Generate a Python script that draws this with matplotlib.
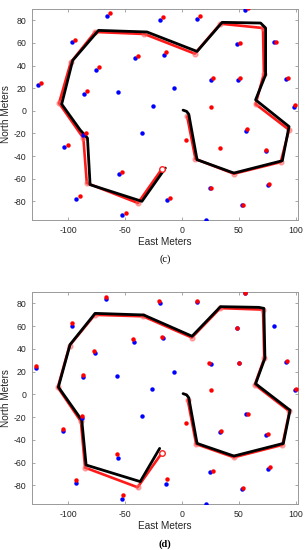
import matplotlib
matplotlib.use("Agg")
import matplotlib.pyplot as plt

# ---------- Panel (c) data ----------
c_true_lm_x = [-127, -96.5, -65.9, -19.1, 13.5, 55.3, 48.5, 80.6, -41.8, -16.2, -75.9, -86.2, -56.2, -7.1, -25.9,
               25.6, 49.4, 91.8, 98.8, 56.5, -35.0, -87.4, -103.5, 74.1, -55.9, -92.9, -13.5, 25.0, 75.6, 52.4, -52.6, 21.5]
c_true_lm_y = [22.7, 60.8, 84.1, 80.6, 81.5, 89.1, 59.0, 60.5, 46.3, 49.3, 36.3, 15.1, 16.5, 19.8, 4.7,
               26.9, 26.9, 28.3, 3.8, -17.7, -19.2, -21.3, -32.1, -35.9, -55.9, -77.9, -79.1, -68.5, -65.6, -83.5, -92.4, -96.5]
c_est_lm_x = [-124.4, -93.8, -63.2, -16.8, 16.2, 57.6, 50.6, 82.9, -39.1, -13.8, -73.5, -83.5,
              27.6, 50.9, 92.9, 25.9, 99.1, 56.8, -84.4, -100.6, 3.5, 33.2, 74.1, -52.6, -89.7, -10.6, 25.6, 76.2, 53.2, -49.7]
c_est_lm_y = [24.8, 62.9, 86.2, 82.9, 83.5, 90.6, 59.9, 61.1, 48.7, 51.7, 38.7, 17.4,
              28.9, 28.6, 28.6, 3.5, 5.0, -16.0, -19.2, -30.0, -25.6, -32.9, -34.4, -53.8, -75.6, -77.4, -68.5, -64.7, -82.9, -90.0]
c_true_path_x = [0.9, 4.0, 5.9, 13.2, 45.6, 88.2, 94.1, 64.7, 73.5, 73.5, 69.1, 35.3, 13.2, -30.9, -73.5, -96.2, -105.9, -89.7, -83.2, -80.9, -35.3, -14.7]
c_true_path_y = [0.6, -0.5, -3.0, -43.2, -55.0, -44.1, -13.9, 9.7, 31.9, 73.2, 77.6, 78.2, 52.5, 69.7, 71.1, 44.6, 5.9, -16.8, -24.1, -65.3, -80.0, -50.6]
c_est_path_x = [4.5, 11.8, 45.6, 86.8, 94.1, 64.7, 72.0, 71.2, 33.8, 11.2, -33.2, -76.5, -97.9, -108.2, -86.8, -83.8, -38.8, -17.6]
c_est_path_y = [-5.0, -42.6, -55.6, -45.3, -16.8, 5.9, 32.8, 73.2, 77.0, 50.5, 67.9, 69.7, 42.8, 6.8, -24.1, -63.8, -81.5, -51.2]

# ---------- Panel (d) data ----------
d_true_lm_x = [-128.5, -97.0, -66.5, -19.7, 13.2, 55.3, 48.5, 80.9, -42.1, -16.8, -76.8, -87.1, -56.8, -7.4, -26.2,
               25.6, 50.0, 91.8, 99.4, 56.5, -35.3, -87.6, -104.4, 74.1, -56.5, -93.5, -13.8, 25.0, 75.6, 52.4, -53.2, 21.5, 33.2]
d_true_lm_y = [22.8, 60.4, 83.8, 80.0, 80.9, 89.1, 58.1, 60.1, 46.1, 49.1, 35.9, 14.9, 16.4, 19.6, 4.7,
               26.9, 27.2, 28.5, 3.8, -17.5, -19.3, -20.5, -32.4, -35.6, -55.8, -77.9, -79.1, -68.3, -65.4, -83.2, -92.3, -96.3, -33.3]
d_est_lm_x = [-128.5, -97.0, -66.8, -20.0, 12.9, 55.0, 48.5, -42.9, -17.4, -77.1, -87.4, 24.1, 50.0, 92.4, 25.9, 100.3,
              57.6, -88.0, -104.4, 3.2, 34.1, 75.3, -56.8, -93.2, -13.2, 26.8, 77.1, 53.8, -52.1]
d_est_lm_y = [25.1, 62.5, 85.5, 81.8, 81.8, 89.1, 58.1, 48.5, 50.5, 38.2, 16.9, 27.7, 27.2, 29.2, 3.5, 5.0,
              -17.5, -19.0, -30.4, -25.4, -32.1, -34.7, -52.6, -75.3, -74.5, -67.4, -64.2, -82.0, -88.5]
d_true_path_x = [0.9, 4.0, 5.9, 13.2, 45.6, 89.1, 95.0, 64.7, 72.9, 72.0, 67.6, 33.8, 8.8, -33.8, -76.5, -98.5, -108.8, -88.2, -84.4, -36.8, -19.7]
d_true_path_y = [0.6, -0.5, -3.0, -43.2, -54.3, -43.2, -14.0, 9.3, 31.8, 75.6, 76.5, 77.1, 51.1, 69.8, 71.2, 43.8, 6.4, -22.8, -62.2, -76.8, -47.6]
d_est_path_x = [5.0, 12.4, 45.6, 88.3, 94.5, 64.0, 72.3, 71.2, 33.6, 8.6, -34.2, -76.8, -99.0, -109.3, -89.0, -85.3, -39.1, -17.6]
d_est_path_y = [-5.0, -43.8, -55.4, -44.5, -15.0, 8.5, 31.5, 74.5, 75.8, 49.9, 68.6, 69.9, 42.8, 6.1, -23.8, -64.5, -81.8, -51.4]

xticks = [-100, -50, 0, 50, 100]
yticks = [-80, -60, -40, -20, 0, 20, 40, 60, 80]

plt.rcParams['font.family'] = ['Liberation Sans', 'DejaVu Sans']
plt.rcParams['axes.unicode_minus'] = False

fig = plt.figure(figsize=(3.08, 5.5), dpi=100)
ax_c = fig.add_axes([32/308, 1-220/550, 266/308, 211/550])
ax_d = fig.add_axes([32/308, 1-504/550, 266/308, 212/550])

def draw(ax, tlx, tly, elx, ely, tpx, tpy, epx, epy, cap, bold):
    ax.plot(epx, epy, color='#ff1a1a', lw=1.9, solid_joinstyle='round', solid_capstyle='round', zorder=2)
    ax.plot(epx[:-1], epy[:-1], 'o', color='#ff6060', ms=3.5, alpha=0.5, zorder=2)
    ax.plot(epx[-1:], epy[-1:], 'o', mfc='white', mec='#ff2020', ms=4, mew=1.0, zorder=4)
    ax.plot(tpx, tpy, color='black', lw=2.0, solid_joinstyle='round', solid_capstyle='round', zorder=3)
    ax.plot(tlx, tly, 'o', color='#0000ff', ms=3.2, mew=0, zorder=5)
    ax.plot(elx, ely, 'o', color='#ff0000', ms=3.2, mew=0, zorder=6)
    ax.set_xlim(-132, 102)
    ax.set_ylim(-96.5, 90)
    ax.set_xticks(xticks)
    ax.set_yticks(yticks)
    ax.tick_params(direction='in', length=2.5, width=0.6, labelsize=6.3, colors='#262626',
                   top=True, right=True, pad=4)
    ax.tick_params(which='both', color='#999999')
    for s in ax.spines.values():
        s.set_color('#999999')
        s.set_linewidth(0.7)
    ax.set_xlabel('East Meters', fontsize=7.2, color='#262626', labelpad=2)
    ax.set_ylabel('North Meters', fontsize=7.2, color='#262626', labelpad=2)
    ax.text(0.5, -0.165, cap, transform=ax.transAxes, ha='center', va='top', fontsize=7.5,
            family=['Liberation Serif', 'DejaVu Serif'], fontweight='bold' if bold else 'normal')

draw(ax_c, c_true_lm_x, c_true_lm_y, c_est_lm_x, c_est_lm_y, c_true_path_x, c_true_path_y,
     c_est_path_x, c_est_path_y, '(c)', False)
draw(ax_d, d_true_lm_x, d_true_lm_y, d_est_lm_x, d_est_lm_y, d_true_path_x, d_true_path_y,
     d_est_path_x, d_est_path_y, '(d)', True)

fig.savefig('out.png', dpi=100)
